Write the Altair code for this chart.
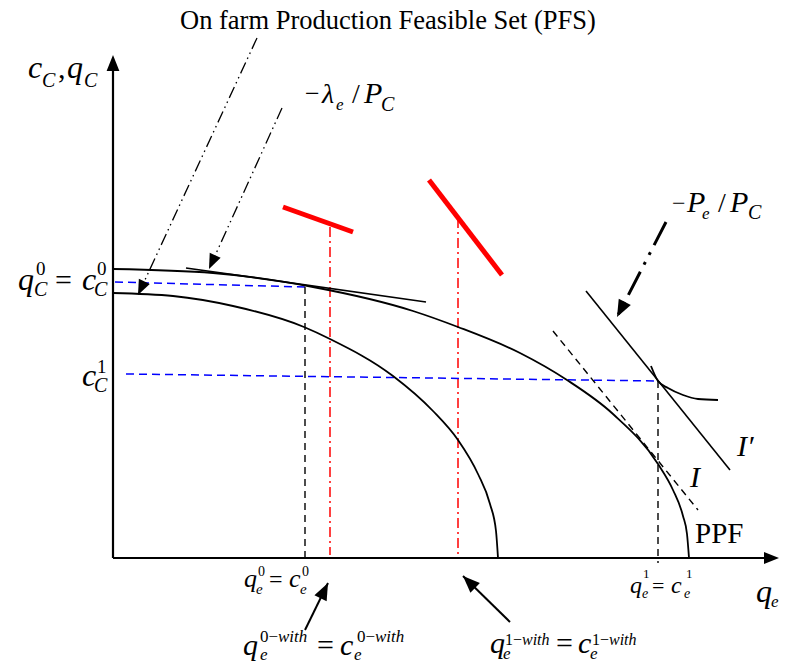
import altair as alt
import pandas as pd
import numpy as np

# ---------------- values ----------------
# economic coordinates: q_e to the right, c_C upwards, origin where the axes meet
pfs_qe = [0, 60, 120, 191, 217, 280, 320, 345, 365, 377, 383, 385]
pfs_cc = [265, 262, 252, 231, 219, 182, 147, 118, 84, 54, 27, 0]
ppf_qe = [0, 100, 200, 300, 345, 407, 454, 500, 545, 560, 570, 574, 576]
ppf_cc = [289, 285, 271, 247, 231, 205, 178, 144, 94, 68, 42, 24, 0]
ic_qe = [538, 545, 555, 570, 585, 605]
ic_cc = [192, 177, 170, 163, 159, 158]

# straight segments (x1, y1, x2, y2)
axes_seg = [(0, 0, 0, 492), (0, 0, 654, 0)]
tangent_seg = [(73, 290, 313, 256), (473, 267, 617, 88)]
black_dash_seg = [(192, 271, 192, 0), (545, 177, 545, -5), (440, 227, 585, 48)]
blue_dash_seg = [(2, 276, 192, 271), (13, 184, 545, 177)]
red_dashdot_seg = [(217, 331, 217, 3), (345, 340, 345, 0)]
red_bar_seg = [(170, 351, 240, 326), (316, 378, 389, 283)]
thin_pointer_seg = [(144, 520, 25, 263), (169, 450, 96, 289)]
thick_pointer_seg = [(553, 336, 504, 241)]
solid_pointer_seg = [(192, -72, 215, -25), (397, -64, 350, -18)]

# arrow heads (tail x, tail y, tip x, tip y, length)
heads = [(0, 0, 0, 503, 16), (0, 0, 666, 0, 15),
         (144, 520, 25, 263, 15), (169, 450, 96, 289, 15),
         (553, 336, 504, 241, 17), (192, -72, 215, -25, 17),
         (397, -64, 350, -18, 17)]

# text pieces (text, left x, baseline y, font size)
upright_txt = [
    ("On farm Production Feasible Set (PFS)", 67, 529, 26.5),
    (",", -55, 480, 30),
    ("0", -77, 283, 19), ("=", -58, 268, 30), ("0", -16, 283, 19),
    ("1", -16, 185, 19),
    ("\u2212", 192, 456, 26), ("/", 239, 455, 28),
    ("\u2212", 559, 347, 24), ("/", 605, 346, 28),
    ("PPF", 582, 15, 29),
    ("0", 145, -18, 14), ("=", 156, -29, 24), ("0", 189, -18, 14),
    ("1", 530, -20, 13), ("=", 539, -35, 22), ("1", 573, -20, 13),
    ("0\u2212", 147, -84, 17), ("=", 204, -97, 30), ("0\u2212", 244, -84, 17),
    ("1\u2212", 392, -87, 16), ("=", 443, -95, 30), ("1\u2212", 479, -87, 16),
]
italic_txt = [
    ("c", -85, 480, 32), ("C", -71, 471, 20), ("q", -46, 480, 32), ("C", -29, 471, 20),
    ("q", -95, 268, 32), ("C", -79, 262, 20), ("c", -31, 268, 32), ("C", -19, 262, 20),
    ("c", -31, 172, 32), ("C", -19, 166, 20),
    ("\u03bb", 209, 455, 28), ("e", 223, 448, 17), ("P", 251, 455, 30), ("C", 268, 447, 20),
    ("P", 574, 346, 30), ("e", 589, 339, 17), ("P", 617, 346, 30), ("C", 635, 339, 20),
    ("I\u2032", 624, 102, 30), ("I", 577, 71, 30),
    ("q", 643, -44, 32), ("e", 658, -49, 17),
    ("q", 131, -29, 26), ("e", 143, -36, 15), ("c", 176, -29, 26), ("e", 187, -36, 15),
    ("q", 517, -35, 24), ("e", 529, -40, 14), ("c", 558, -35, 24), ("e", 571, -40, 14),
    ("q", 130, -97, 30), ("with", 165, -84, 17), ("e", 147, -102, 17),
    ("c", 227, -97, 30), ("with", 262, -84, 17), ("e", 241, -102, 17),
    ("q", 377, -95, 30), ("with", 409, -87, 16), ("e", 390, -101, 17),
    ("c", 465, -95, 30), ("with", 496, -87, 16), ("e", 477, -101, 17),
]

# ---------------- chart ----------------
XS = alt.Scale(domain=[-105, 666], nice=False, zero=False)
YS = alt.Scale(domain=[-105, 550], nice=False, zero=False)
FONT = "Liberation Serif"


def X(f="x"):
    return alt.X(f"{f}:Q", scale=XS, axis=None)


def Y(f="y"):
    return alt.Y(f"{f}:Q", scale=YS, axis=None)


def rules(segs, **kw):
    df = pd.DataFrame(segs, columns=["x", "y", "x2", "y2"])
    return alt.Chart(df).mark_rule(**kw).encode(x=X(), y=Y(), x2="x2:Q", y2="y2:Q")


def curve(xs, ys, **kw):
    df = pd.DataFrame({"x": xs, "y": ys, "i": list(range(len(xs)))})
    return alt.Chart(df).mark_line(interpolate="monotone", **kw).encode(
        x=X(), y=Y(), order="i:Q")


def texts(items, style):
    df = pd.DataFrame(items, columns=["t", "x", "y", "s"])
    return alt.Chart(df).mark_text(align="left", baseline="alphabetic", font=FONT,
                                   fontStyle=style, color="black").encode(
        x=X(), y=Y(), text="t:N", size=alt.Size("s:Q", scale=None))


hd = pd.DataFrame(heads, columns=["x0", "y0", "x", "y", "L"])
hd["ang"] = (np.degrees(np.arctan2(hd["x"] - hd["x0"], hd["y"] - hd["y0"])) + 360) % 360
hd["sz"] = hd["L"] ** 2
head_layer = alt.Chart(hd).mark_point(shape="M0,0L0.8,2L-0.8,2Z", filled=True,
                                      color="black", opacity=1, strokeWidth=0).encode(
    x=X(), y=Y(), angle=alt.Angle("ang:Q", scale=None), size=alt.Size("sz:Q", scale=None))

layers = [
    rules(red_dashdot_seg, color="#ff0000", strokeWidth=1.5, strokeDash=[10, 4, 2, 4]),
    rules(blue_dash_seg, color="#0000ff", strokeWidth=1.5, strokeDash=[8, 5]),
    rules(black_dash_seg, color="black", strokeWidth=1.4, strokeDash=[7, 5]),
    curve(pfs_qe, pfs_cc, color="black", strokeWidth=1.8),
    curve(ppf_qe, ppf_cc, color="black", strokeWidth=1.8),
    curve(ic_qe, ic_cc, color="black", strokeWidth=1.8),
    rules(tangent_seg, color="black", strokeWidth=1.6),
    rules(axes_seg, color="black", strokeWidth=2.2),
    rules(red_bar_seg, color="#ff0000", strokeWidth=5),
    rules(thin_pointer_seg, color="black", strokeWidth=1.3, strokeDash=[12, 4, 1.5, 4, 1.5, 4]),
    rules(thick_pointer_seg, color="black", strokeWidth=3, strokeDash=[26, 8, 3, 8, 3, 8]),
    rules(solid_pointer_seg, color="black", strokeWidth=2),
    head_layer,
    texts(upright_txt, "normal"),
    texts(italic_txt, "italic"),
]

chart = alt.layer(*layers).properties(
    width=771, height=655, padding=0,
    autosize=alt.AutoSizeParams(type="none"), background="white",
).configure_view(stroke=None)

chart.save("out.html", embed_options={"renderer": "svg", "actions": False})
